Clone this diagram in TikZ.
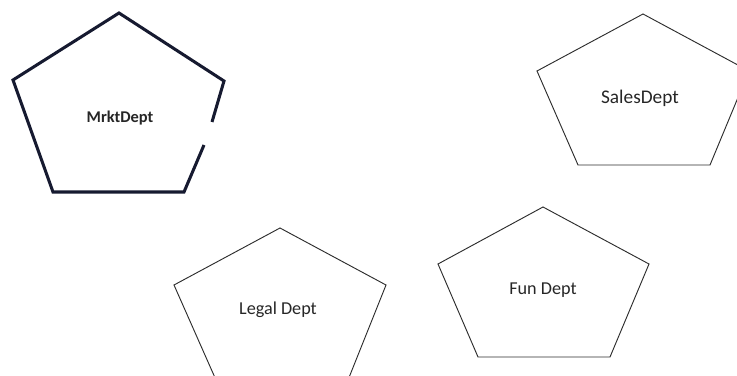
\documentclass[tikz,border=0pt]{standalone}
\usepackage{fontspec}
\setmainfont{Carlito}
\begin{document}
\begin{tikzpicture}[x=0.03cm,y=-0.03cm]
  \definecolor{cnavy}{RGB}{22,26,48}
  \definecolor{cedge}{RGB}{45,45,45}
  \tikzset{pent/.style={draw=cedge,line width=0.8pt,line join=miter},
    dept/.style={font=\fontsize{15.5}{18}\selectfont,text=black!85}}
  \clip (0,0) rectangle (737,376);
  % marketing: heavy outline, open on the right side
  \draw[cnavy,line width=2.6pt] (212,122) -- (224,81) -- (119,13) -- (13,80)
    -- (53,192) -- (184,192) -- (204,145);
  \node[dept,font=\fontsize{14}{17}\selectfont\bfseries] (mrkt) at (120,118) {MrktDept};
  \draw[pent] (643,14) -- (749,71) -- (710,165) -- (578,165) -- (537,71) -- cycle;
  \node[dept,font=\fontsize{16.5}{19}\selectfont] (sales) at (640,98) {SalesDept};
  \draw[pent] (280,228) -- (386,285) -- (348,380) -- (216,380) -- (174,285) -- cycle;
  \node[dept] (legal) at (278,310) {Legal Dept};
  \draw[pent] (543,207) -- (649,264) -- (610,357) -- (478,357) -- (438,264) -- cycle;
  \node[dept] (fun) at (543,290) {Fun Dept};
\end{tikzpicture}
\end{document}
